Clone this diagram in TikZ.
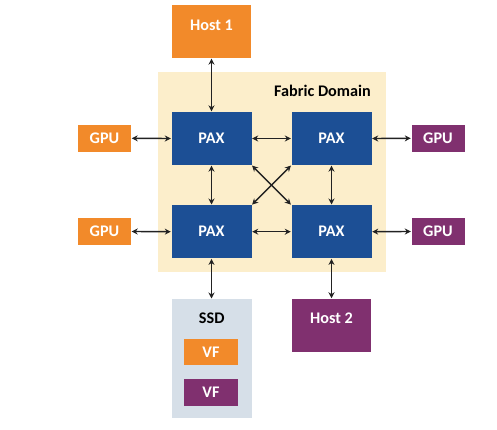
\documentclass[tikz,border=0pt]{standalone}
\usepackage{fontspec}
\setmainfont{Carlito}
\usetikzlibrary{arrows.meta}
\definecolor{orng}{HTML}{F28A2A}
\definecolor{purp}{HTML}{80306F}
\definecolor{paxblue}{HTML}{1C4F95}
\definecolor{fabric}{HTML}{FCEECB}
\definecolor{ssdgray}{HTML}{D6DFE8}
\definecolor{arr}{HTML}{222222}
\tikzset{
  box/.style={rectangle, draw=none, inner sep=0pt, text=white, font=\fontsize{16.2}{19}\selectfont\bfseries},
  pax/.style={box, fill=paxblue, minimum width=80pt, minimum height=53pt},
  gpuo/.style={box, fill=orng, minimum width=53pt, minimum height=26.5pt},
  gpup/.style={box, fill=purp, minimum width=53pt, minimum height=26.5pt},
  link/.style={arr, line width=1.4pt, {Stealth[length=6pt,width=6pt]}-{Stealth[length=6pt,width=6pt]}, shorten <=0.5pt, shorten >=0.5pt},
  lbl/.style={inner sep=0pt, font=\fontsize{16.2}{19}\selectfont\bfseries}
}
\begin{document}
\begin{tikzpicture}[x=1pt,y=-1pt]
\useasboundingbox (0,0) rectangle (497,430);
% fabric domain
\node[draw=none, fill=fabric, inner sep=0pt, minimum width=227.5pt, minimum height=199.7pt, anchor=north west] (fab) at (158,72) {};
\node[lbl, text=black] (fablbl) at (322.5,91) {Fabric Domain};
% hosts
\node[box, fill=orng, minimum width=79.5pt, minimum height=53pt] (h1) at (211.5,31.5) {};
\node[lbl, text=white] (h1t) at (211.5,25) {Host 1};
\node[box, fill=purp, minimum width=79.5pt, minimum height=52.7pt] (h2) at (331.5,325.3) {};
\node[lbl, text=white] (h2t) at (331.5,318) {Host 2};
% PAX
\node[pax] (tl) at (211.5,138.5) {PAX};
\node[pax] (tr) at (331.5,138.5) {PAX};
\node[pax] (bl) at (211.5,231.7) {PAX};
\node[pax] (br) at (331.5,231.7) {PAX};
% GPUs
\node[gpuo] (g1) at (104.5,138.3) {GPU};
\node[gpuo] (g2) at (104.5,231.5) {GPU};
\node[gpup] (g3) at (438,138.3) {GPU};
\node[gpup] (g4) at (438,231.5) {GPU};
% SSD
\node[draw=none, fill=ssdgray, inner sep=0pt, minimum width=80pt, minimum height=119pt, anchor=north west] (ssd) at (171.7,299) {};
\node[lbl, text=black] (ssdt) at (211.7,318) {SSD};
\node[gpuo, minimum width=53.5pt, minimum height=26pt] (vf1) at (211,352) {VF};
\node[gpup, minimum width=53.5pt, minimum height=26.7pt] (vf2) at (211,392.3) {VF};
% links
\draw[link] (h1.south) -- (tl.north);
\draw[link] (tl.south) -- (bl.north);
\draw[link] (tr.south) -- (br.north);
\draw[link] (bl.south) -- (bl.south |- ssd.north);
\draw[link] (br.south) -- (h2.north);
\draw[link] (tl.east) -- (tr.west);
\draw[link] (bl.east) -- (br.west);
\draw[link] (g1.east) -- (tl.west);
\draw[link] (g2.east) -- (bl.west);
\draw[link] (tr.east) -- (g3.west);
\draw[link] (br.east) -- (g4.west);
\draw[link] (tl.south east) -- (br.north west);
\draw[link] (tr.south west) -- (bl.north east);
\end{tikzpicture}
\end{document}
